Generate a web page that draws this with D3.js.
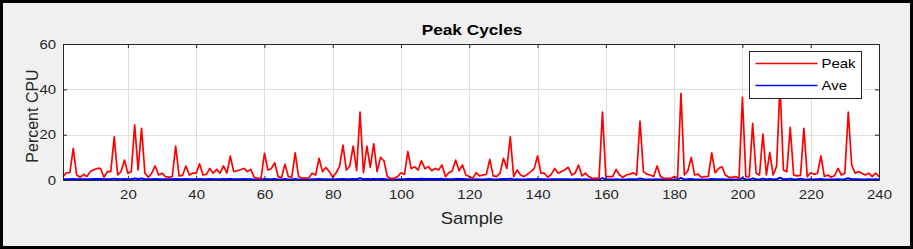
<!DOCTYPE html>
<html>
<head>
<meta charset="utf-8">
<script src="https://cdn.jsdelivr.net/npm/d3@7"></script>
<style>
  html, body { margin: 0; padding: 0; background: #f0f0f0; }
  svg { display: block; font-family: Arial, "Liberation Sans", Helvetica, sans-serif; }
</style>
</head>
<body>
<div id="chart"></div>
<script>
// values
const peak = [
  1.5, 3.2, 3.2, 14, 2.2, 1.2, 2.5, 1.5, 3.7, 4.5, 5.1, 5.1, 1.2, 3.7, 3.7, 19, 2.2, 3.7, 8.8, 3,
  3.7, 24.3, 4.4, 22.8, 3, 1.2, 3, 6.2, 2.2, 3, 1.5, 1.2, 1.5, 15, 1.8, 2, 6.2, 2.2, 3, 3,
  7.2, 2.2, 2.5, 5.1, 3, 4.7, 3, 6.2, 3, 10.5, 3.7, 4.1, 4.5, 5.1, 3.7, 4.7, 1.2, 0.7, 0.7, 11.8,
  4.4, 5, 7.6, 1.5, 1, 7, 1.5, 1.2, 12, 1.5, 0.8, 0.8, 1, 3, 2.2, 9.6, 3.7, 5.5, 3.7, 1.2,
  3.2, 6, 15.4, 4.4, 6.2, 15, 4.1, 30, 3.2, 15, 5.6, 16, 3.7, 10, 8.5, 1.5, 0.7, 0.7, 1.5, 3.2,
  2.5, 12.5, 5, 5.9, 4.4, 8.5, 5, 5.9, 4.1, 5.1, 4.4, 6.6, 1.5, 3.2, 4, 8.8, 4.1, 6.6, 2.2, 1.5,
  0.7, 3.2, 1.8, 2.2, 2.5, 9.1, 1.8, 1.5, 3, 9.6, 5.1, 19, 1.5, 4.4, 2.2, 1.5, 2.5, 3.7, 5, 10.6,
  3, 3, 1.2, 2.5, 5.1, 3, 3.7, 4.5, 5.6, 2.2, 3, 6.6, 1.8, 3, 1.5, 0.7, 0.7, 0.7, 30, 1.5,
  1.5, 1.5, 4.7, 2.2, 1.2, 2.2, 2.6, 3.2, 2.2, 26, 3.7, 2.6, 2.2, 1.5, 6.2, 1.5, 0.7, 0.7, 0.7, 1.5,
  1, 38.2, 2.2, 4, 10, 2.2, 2.6, 1.2, 1.5, 1.5, 12, 3.2, 5.1, 5.9, 2.2, 1.2, 1.2, 1.5, 0.7, 36.5,
  1.5, 1.5, 25, 3, 2.2, 20.3, 2.2, 12.2, 2.2, 6, 42, 4.4, 3.7, 23.2, 2.2, 1.8, 2, 22.8, 1.5, 3.2,
  2.5, 3, 10.6, 1.5, 2.2, 1.2, 2, 5.1, 2.2, 3, 30, 6.6, 3, 3.7, 3, 2.2, 3, 1.5, 3, 1.5
];
const ave = [
  0.3, 0.3, 0.3, 0.5, 0.3, 0.3, 0.3, 0.3, 0.3, 0.4, 0.4, 0.4, 0.3, 0.3, 0.3, 0.6, 0.3, 0.3, 0.4, 0.3,
  0.3, 0.7, 0.4, 0.7, 0.3, 0.3, 0.3, 0.4, 0.3, 0.3, 0.3, 0.3, 0.3, 0.5, 0.3, 0.3, 0.4, 0.3, 0.3, 0.3,
  0.4, 0.3, 0.3, 0.4, 0.3, 0.3, 0.3, 0.4, 0.3, 0.4, 0.3, 0.3, 0.3, 0.4, 0.3, 0.3, 0.2, 0.2, 0.2, 0.4,
  0.3, 0.3, 0.4, 0.2, 0.2, 0.4, 0.2, 0.2, 0.4, 0.2, 0.2, 0.2, 0.2, 0.3, 0.3, 0.4, 0.3, 0.3, 0.3, 0.2,
  0.3, 0.3, 0.5, 0.3, 0.3, 0.5, 0.3, 0.8, 0.3, 0.5, 0.3, 0.5, 0.3, 0.4, 0.4, 0.2, 0.2, 0.2, 0.2, 0.3,
  0.3, 0.5, 0.4, 0.4, 0.4, 0.5, 0.4, 0.4, 0.4, 0.4, 0.4, 0.5, 0.3, 0.3, 0.3, 0.5, 0.4, 0.4, 0.3, 0.2,
  0.2, 0.3, 0.2, 0.2, 0.3, 0.4, 0.2, 0.2, 0.3, 0.4, 0.3, 0.6, 0.2, 0.3, 0.2, 0.2, 0.3, 0.3, 0.3, 0.4,
  0.3, 0.3, 0.2, 0.3, 0.3, 0.3, 0.3, 0.3, 0.3, 0.2, 0.3, 0.3, 0.2, 0.3, 0.2, 0.2, 0.2, 0.2, 0.8, 0.2,
  0.2, 0.2, 0.3, 0.2, 0.2, 0.2, 0.3, 0.3, 0.2, 0.7, 0.3, 0.2, 0.2, 0.2, 0.3, 0.2, 0.2, 0.2, 0.2, 0.2,
  0.2, 0.9, 0.2, 0.3, 0.4, 0.2, 0.2, 0.2, 0.2, 0.2, 0.4, 0.3, 0.3, 0.3, 0.2, 0.2, 0.2, 0.2, 0.2, 0.9,
  0.2, 0.2, 0.7, 0.3, 0.2, 0.6, 0.2, 0.4, 0.2, 0.3, 1.0, 0.3, 0.3, 0.6, 0.2, 0.2, 0.6, 0.2, 0.2, 0.3,
  0.2, 0.3, 0.4, 0.2, 0.2, 0.2, 0.2, 0.3, 0.2, 0.3, 0.8, 0.3, 0.3, 0.3, 0.2, 0.2, 0.3, 0.2, 0.3, 0.2
];
const xTicks = [20, 40, 60, 80, 100, 120, 140, 160, 180, 200, 220, 240];
const yTicks = [0, 20, 40, 60];
const seriesNames = ["Peak", "Ave"];
const seriesColors = ["#ff0000", "#0000ff"];

const WIDTH = 913,
  HEIGHT = 249,
  AXIS_COLOR = "#262626",
  GRID_COLOR = "#dfdfdf",
  SX = 1.15; // picture looks stretched sideways

const svg = d3.select("#chart").append("svg")
  .attr("width", WIDTH)
  .attr("height", HEIGHT);

svg.append("rect")
  .attr("x", 1.5).attr("y", 1.5)
  .attr("width", WIDTH - 3).attr("height", HEIGHT - 3)
  .attr("fill", "#f0f0f0")
  .attr("stroke", "#000")
  .attr("stroke-width", 3);

const x = d3.scaleLinear().domain([1, 240]).range([63, 879]),
  y = d3.scaleLinear().domain([0, 60]).range([180, 44]);

// plot background
svg.append("rect")
  .attr("x", x(1)).attr("y", y(60))
  .attr("width", x(240) - x(1)).attr("height", y(0) - y(60))
  .attr("fill", "#fff");

// grid
const grid = svg.append("g");
grid.selectAll(".gx").data(xTicks.filter(d => d < 240)).enter().append("line")
  .attr("x1", d => Math.round(x(d)) + 0.5).attr("x2", d => Math.round(x(d)) + 0.5)
  .attr("y1", y(0)).attr("y2", y(60))
  .attr("stroke", GRID_COLOR);
grid.selectAll(".gy").data(yTicks.filter(d => d > 0 && d < 60)).enter().append("line")
  .attr("y1", d => Math.round(y(d)) + 0.5).attr("y2", d => Math.round(y(d)) + 0.5)
  .attr("x1", x(1)).attr("x2", x(240))
  .attr("stroke", GRID_COLOR);

// lines
const line = d3.line().x((d, i) => x(i + 1)).y(d => y(d));
[ave, peak].forEach((s, k) => {
  svg.append("path")
    .datum(s)
    .attr("d", line)
    .attr("fill", "none")
    .attr("stroke", k === 0 ? seriesColors[1] : seriesColors[0])
    .attr("stroke-width", k === 0 ? 2 : 1.7)
    .attr("stroke-linejoin", "round");
});

// axes (ticks pointing inward, on all four sides)
function styleAxis(g) {
  g.select(".domain").attr("stroke", AXIS_COLOR);
  g.selectAll(".tick line").attr("stroke", AXIS_COLOR);
  g.selectAll("text")
    .attr("fill", AXIS_COLOR)
    .attr("font-size", 13)
    .attr("font-family", "Arial, 'Liberation Sans', sans-serif");
}

const xAxis = svg.append("g")
  .attr("transform", `translate(0,${y(0)})`)
  .call(d3.axisBottom(x).tickValues(xTicks).tickSizeInner(-4).tickSizeOuter(0).tickPadding(10))
  .call(styleAxis);
xAxis.selectAll("text").attr("transform", `scale(${SX},1)`);

svg.append("g")
  .attr("transform", `translate(0,${y(60)})`)
  .call(d3.axisTop(x).tickValues(xTicks).tickSizeInner(-4).tickSizeOuter(0).tickFormat(""))
  .call(styleAxis);

const yAxis = svg.append("g")
  .attr("transform", `translate(${x(1)},0)`)
  .call(d3.axisLeft(y).tickValues(yTicks).tickSizeInner(-4).tickSizeOuter(0).tickPadding(6))
  .call(styleAxis);
yAxis.selectAll("text").attr("transform", `scale(${SX},1)`);

svg.append("g")
  .attr("transform", `translate(${x(240)},0)`)
  .call(d3.axisRight(y).tickValues(yTicks).tickSizeInner(-4).tickSizeOuter(0).tickFormat(""))
  .call(styleAxis);

// title and labels
svg.append("text")
  .attr("transform", `translate(472,35) scale(${SX},1)`)
  .attr("text-anchor", "middle")
  .attr("font-weight", "bold")
  .attr("font-size", 15)
  .attr("fill", "#000")
  .text("Peak Cycles");

svg.append("text")
  .attr("transform", `translate(472,224) scale(${SX},1)`)
  .attr("text-anchor", "middle")
  .attr("font-size", 16)
  .attr("fill", AXIS_COLOR)
  .text("Sample");

svg.append("text")
  .attr("transform", "translate(38,116) rotate(-90)")
  .attr("text-anchor", "middle")
  .attr("font-size", 16)
  .attr("fill", AXIS_COLOR)
  .text("Percent CPU");

// legend
const legend = svg.append("g").attr("transform", "translate(749.5,51.5)");
legend.append("rect")
  .attr("width", 112).attr("height", 47)
  .attr("fill", "#fff")
  .attr("stroke", AXIS_COLOR);
seriesNames.forEach((name, i) => {
  const ly = 12 + i * 22;
  legend.append("line")
    .attr("x1", 6).attr("x2", 68)
    .attr("y1", ly).attr("y2", ly)
    .attr("stroke", seriesColors[i])
    .attr("stroke-width", 1.5);
  legend.append("text")
    .attr("transform", `translate(72,${ly + 4.5}) scale(${SX},1)`)
    .attr("font-size", 13)
    .attr("fill", "#000")
    .text(name);
});
</script>
</body>
</html>
